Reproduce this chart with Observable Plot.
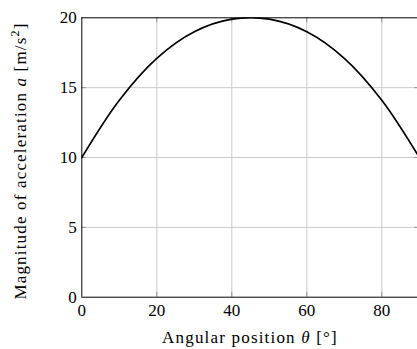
<!DOCTYPE html>
<html><head><meta charset="utf-8">
<script src="https://cdn.jsdelivr.net/npm/d3@7"></script>
<script src="https://cdn.jsdelivr.net/npm/@observablehq/plot@0.6"></script>
<style>
html,body{margin:0;padding:0;background:#fff;overflow:hidden;}
</style>
</head><body><div id="chart"></div>
<script>
const theta = [0, 10, 20, 30, 40, 50, 60, 70, 80, 90];
const accel = [10.0, 14.1, 17.1, 19.0, 19.9, 19.9, 19.0, 17.1, 14.1, 10.0];
const xTicks = [0, 20, 40, 60, 80];
const yTicks = [0, 5, 10, 15, 20];
const xGrid = [20, 40, 60, 80];
const yGrid = [5, 10, 15];

const data = theta.map((t, i) => ({theta: t, a: accel[i]}));
const font = "Liberation Serif, DejaVu Serif, serif";

const W = 417, H = 349;
const mL = 81.3, mR = -1.8, mT = 17.3, mB = 52.3;

const chart = Plot.plot({
  width: W, height: H,
  marginLeft: mL, marginRight: mR, marginTop: mT, marginBottom: mB,
  style: {fontFamily: font, fontSize: "17px", background: "#fff", color: "#000", overflow: "hidden"},
  x: {domain: [0, 90]},
  y: {domain: [0, 20]},
  marks: [
    Plot.ruleX(xGrid, {stroke: "#c4c4c4", strokeWidth: 0.9}),
    Plot.ruleY(yGrid, {stroke: "#c4c4c4", strokeWidth: 0.9}),
    Plot.ruleX(xGrid, {y1: 0, y2: 0.35, stroke: "#8a8a8a", strokeWidth: 0.9}),
    Plot.ruleX(xGrid, {y1: 20, y2: 19.65, stroke: "#8a8a8a", strokeWidth: 0.9}),
    Plot.ruleY(yGrid, {x1: 0, x2: 1.2, stroke: "#8a8a8a", strokeWidth: 0.9}),
    Plot.ruleY(yGrid, {x1: 88.8, x2: 90, stroke: "#8a8a8a", strokeWidth: 0.9}),
    Plot.line(data, {x: "theta", y: "a", stroke: "#000", strokeWidth: 1.7, curve: "catmull-rom", clip: true}),
    Plot.ruleX([0], {stroke: "#000", strokeWidth: 1}),
    Plot.ruleY([0], {stroke: "#000", strokeWidth: 1}),
    Plot.ruleY([20], {stroke: "#000", strokeWidth: 1}),
    Plot.ruleX([90], {stroke: "#000", strokeWidth: 1}),
    Plot.axisX(xTicks, {tickSize: 0, tickPadding: 7, fontSize: 17, fontFamily: font, label: null}),
    Plot.axisY(yTicks, {tickSize: 0, tickPadding: 5, fontSize: 17, fontFamily: font, label: null})
  ]
});
document.getElementById("chart").appendChild(chart);

const svg = d3.select(chart);
svg.selectAll("text").style("font-family", font);
function fit(sel, target) {
  const n = sel.text().length;
  const len = sel.node().getComputedTextLength();
  if (len > 0 && n > 1) sel.attr("letter-spacing", ((target - len) / n).toFixed(2));
}
const xl = svg.append("text")
  .attr("x", 250).attr("y", 343)
  .attr("text-anchor", "middle")
  .style("font-family", font).style("font-size", "17px").attr("fill", "#000");
xl.append("tspan").text("Angular position ");
xl.append("tspan").style("font-style", "italic").text("θ");
xl.append("tspan").text(" [°]");
fit(xl, 176);

const yl = svg.append("text")
  .attr("transform", `translate(26,161) rotate(-90)`)
  .attr("text-anchor", "middle")
  .style("font-family", font).style("font-size", "17px").attr("fill", "#000");
yl.append("tspan").text("Magnitude of acceleration ");
yl.append("tspan").style("font-style", "italic").text("a");
yl.append("tspan").text(" [m/s");
yl.append("tspan").attr("baseline-shift", "super").style("font-size", "12px").text("2");
yl.append("tspan").attr("baseline-shift", "0").text("]");
fit(yl, 277);
</script>
</body></html>
